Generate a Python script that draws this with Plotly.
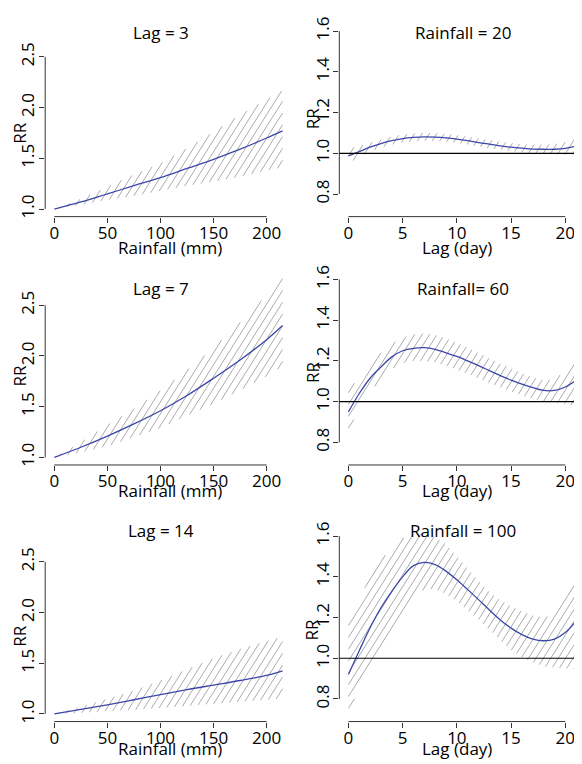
import math
import plotly.graph_objects as go

# ---------------- data ----------------
rain_x = [0, 25, 50, 75, 100, 125, 150, 175, 200, 215]

lag3_rr = [1.00, 1.07, 1.15, 1.23, 1.31, 1.40, 1.49, 1.59, 1.70, 1.77]
lag3_hi = [1.00, 1.10, 1.22, 1.34, 1.45, 1.60, 1.76, 1.93, 2.08, 2.17]
lag3_lo = [1.00, 1.04, 1.09, 1.13, 1.18, 1.23, 1.27, 1.32, 1.38, 1.41]

lag7_rr = [1.00, 1.10, 1.21, 1.33, 1.46, 1.61, 1.78, 1.96, 2.16, 2.30]
lag7_hi = [1.00, 1.15, 1.32, 1.48, 1.66, 1.86, 2.08, 2.33, 2.60, 2.77]
lag7_lo = [1.00, 1.05, 1.11, 1.20, 1.29, 1.41, 1.53, 1.66, 1.80, 1.90]

lag14_rr = [1.00, 1.045, 1.09, 1.14, 1.19, 1.24, 1.285, 1.33, 1.38, 1.425]
lag14_hi = [1.00, 1.07, 1.15, 1.23, 1.33, 1.44, 1.55, 1.64, 1.72, 1.76]
lag14_lo = [1.00, 1.01, 1.03, 1.04, 1.06, 1.08, 1.10, 1.12, 1.14, 1.155]

lag_x = list(range(22))

rain20_rr = [0.987, 1.008, 1.030, 1.048, 1.062, 1.072, 1.078, 1.081, 1.080, 1.076, 1.070,
             1.062, 1.053, 1.045, 1.037, 1.030, 1.025, 1.021, 1.020, 1.020, 1.024, 1.035]
rain20_hi = [1.025, 1.035, 1.052, 1.068, 1.082, 1.092, 1.098, 1.100, 1.099, 1.095, 1.089,
             1.082, 1.073, 1.065, 1.057, 1.050, 1.045, 1.042, 1.042, 1.045, 1.055, 1.075]
rain20_lo = [0.952, 0.982, 1.008, 1.028, 1.043, 1.053, 1.058, 1.062, 1.061, 1.057, 1.051,
             1.043, 1.034, 1.025, 1.017, 1.010, 1.005, 1.000, 0.998, 0.995, 0.993, 0.995]

rain60_rr = [0.950, 1.040, 1.115, 1.170, 1.220, 1.250, 1.262, 1.265, 1.257, 1.240, 1.222,
             1.200, 1.177, 1.152, 1.128, 1.106, 1.086, 1.069, 1.055, 1.055, 1.072, 1.105]
rain60_hi = [1.055, 1.120, 1.185, 1.240, 1.285, 1.315, 1.330, 1.335, 1.328, 1.310, 1.290,
             1.265, 1.240, 1.213, 1.187, 1.163, 1.140, 1.120, 1.105, 1.110, 1.150, 1.260]
rain60_lo = [0.860, 0.965, 1.050, 1.110, 1.160, 1.190, 1.200, 1.200, 1.193, 1.176, 1.157,
             1.137, 1.115, 1.092, 1.070, 1.050, 1.030, 1.015, 1.000, 0.995, 0.990, 0.975]

rain100_rr = [0.920, 1.037, 1.150, 1.248, 1.329, 1.400, 1.455, 1.471, 1.460, 1.428, 1.385,
              1.337, 1.288, 1.237, 1.188, 1.148, 1.116, 1.094, 1.086, 1.094, 1.126, 1.183]
rain100_hi = [1.175, 1.290, 1.400, 1.480, 1.545, 1.590, 1.610, 1.610, 1.595, 1.560, 1.500,
              1.440, 1.380, 1.325, 1.285, 1.255, 1.230, 1.210, 1.200, 1.215, 1.300, 1.440]
rain100_lo = [0.740, 0.850, 0.960, 1.060, 1.150, 1.230, 1.300, 1.340, 1.340, 1.315, 1.280,
              1.235, 1.190, 1.140, 1.090, 1.040, 1.005, 0.980, 0.960, 0.955, 0.950, 0.948]

rain_ticks = [0, 50, 100, 150, 200]
lag_ticks = [0, 5, 10, 15, 20]
rr_ticks_left = [1.0, 1.5, 2.0, 2.5]
rr_ticks_right = [0.8, 1.0, 1.2, 1.4, 1.6]

left_titles = ["Lag = 3", "Lag = 7", "Lag = 14"]
right_titles = ["Rainfall = 20", "Rainfall= 60", "Rainfall = 100"]

# ---------------- layout constants (screen pixels) ----------------
OFF = 8                      # default page body margin
W, H = 582 - OFF, 764 - OFF  # figure size so that it ends at the window edge
FONT = "Open Sans"
FS = 17
COL_DOM_PX = [(45.2, 291.7), (339.3, 582.0)]
ROW_BOTTOM_PX = [215.0, 465.0, 723.3]
PANEL_H_PX = 198.6
XR = [[-8.6, 223.6], [-0.84, 21.54]]
YR = [[0.925, 2.87], [0.689, 1.658]]
TITLE_Y_PX = [30, 287, 531]
TITLE_X_PX = [160.5, 462.5]
XLAB_Y_PX = [246.5, 491, 750]
XLAB_X_PX = [169.5, 456.5]
RR_X_PX = [20, 312]
RR_Y_PX = [[131.5, 376, 638], [117, 372.5, 631.7]]

HATCH_ANGLE = 58
HATCH_GAP = 6.3
HATCH_COLOR = "#ababab"
LINE_COLOR = "#3c46aa"
AXIS_COLOR = "#333333"


def px_x(p):
    return (p - OFF) / W


def px_y(p):
    return 1 - (p - OFF) / H


def hatch_segments(xs, lo, hi, sx, sy, ang, gap):
    pts = [(x * sx, y * sy) for x, y in zip(xs, hi)] + \
          [(x * sx, y * sy) for x, y in zip(xs[::-1], lo[::-1])]
    th = math.radians(ang)
    dx, dy = math.cos(th), math.sin(th)
    nx, ny = -dy, dx
    cs = [nx * u + ny * v for u, v in pts]
    k0 = math.floor(min(cs) / gap)
    k1 = math.ceil(max(cs) / gap)
    X, Y = [], []
    n = len(pts)
    for k in range(k0, k1 + 1):
        c = k * gap
        hits = []
        for i in range(n):
            (u1, v1), (u2, v2) = pts[i], pts[(i + 1) % n]
            c1, c2 = cs[i], cs[(i + 1) % n]
            if (c1 <= c < c2) or (c2 <= c < c1):
                t = (c - c1) / (c2 - c1)
                u = u1 + t * (u2 - u1)
                v = v1 + t * (v2 - v1)
                hits.append((dx * u + dy * v, u, v))
        hits.sort()
        for j in range(0, len(hits) - 1, 2):
            X += [hits[j][1] / sx, hits[j + 1][1] / sx, None]
            Y += [hits[j][2] / sy, hits[j + 1][2] / sy, None]
    return X, Y


panels = [
    (0, 0, rain_x, lag3_rr, lag3_lo, lag3_hi),
    (0, 1, lag_x, rain20_rr, rain20_lo, rain20_hi),
    (1, 0, rain_x, lag7_rr, lag7_lo, lag7_hi),
    (1, 1, lag_x, rain60_rr, rain60_lo, rain60_hi),
    (2, 0, rain_x, lag14_rr, lag14_lo, lag14_hi),
    (2, 1, lag_x, rain100_rr, rain100_lo, rain100_hi),
]

fig = go.Figure()
layout = dict(
    width=W, height=H, margin=dict(l=0, r=0, t=0, b=0),
    paper_bgcolor="white", plot_bgcolor="white", showlegend=False,
    font=dict(family=FONT, size=FS, color="black"),
)
shapes = []
annotations = []
tfont = dict(family=FONT, size=FS, color="black")

for idx, (row, col, xs, rr, lo, hi) in enumerate(panels):
    n = idx + 1
    xa = "x" if n == 1 else f"x{n}"
    ya = "y" if n == 1 else f"y{n}"
    xkey = "xaxis" if n == 1 else f"xaxis{n}"
    ykey = "yaxis" if n == 1 else f"yaxis{n}"

    d0, d1 = COL_DOM_PX[col]
    bottom = ROW_BOTTOM_PX[row]
    top = bottom - PANEL_H_PX
    xr, yr = XR[col], YR[col]
    sx = (d1 - d0) / (xr[1] - xr[0])
    sy = PANEL_H_PX / (yr[1] - yr[0])

    xt = rain_ticks if col == 0 else lag_ticks
    yt = rr_ticks_left if col == 0 else rr_ticks_right

    hx, hy = hatch_segments(xs, lo, hi, sx, sy, HATCH_ANGLE, HATCH_GAP)
    fig.add_trace(go.Scatter(x=hx, y=hy, mode="lines", xaxis=xa, yaxis=ya,
                             line=dict(color=HATCH_COLOR, width=1), hoverinfo="skip"))
    fig.add_trace(go.Scatter(x=xs, y=rr, mode="lines", xaxis=xa, yaxis=ya,
                             line=dict(color=LINE_COLOR, width=1.3, shape="spline")))

    layout[xkey] = dict(
        domain=[px_x(d0), min(1.0, px_x(d1))], range=xr, anchor=ya,
        showgrid=False, zeroline=False, showline=False,
        ticks="outside", ticklen=5, tickwidth=1, tickcolor=AXIS_COLOR,
        tickvals=xt, ticktext=[str(v) for v in xt], ticklabelstandoff=-4,
        tickfont=tfont,
    )
    layout[ykey] = dict(
        domain=[px_y(bottom), px_y(top)], range=yr, anchor=xa,
        showgrid=False, zeroline=False, showline=False,
        ticks="outside", ticklen=5, tickwidth=1, tickcolor=AXIS_COLOR,
        tickvals=yt, ticktext=[f"{v:.1f}" for v in yt], tickangle=-90,
        ticklabelstandoff=-2, tickfont=tfont,
    )

    # R-style axis lines spanning first to last tick
    shapes.append(dict(type="line", xref=xa, yref=f"{ya} domain",
                       x0=xt[0], x1=xt[-1], y0=0, y1=0,
                       line=dict(color=AXIS_COLOR, width=1)))
    shapes.append(dict(type="line", xref=f"{xa} domain", yref=ya,
                       x0=0, x1=0, y0=yt[0], y1=yt[-1],
                       line=dict(color=AXIS_COLOR, width=1)))
    if col == 1:
        shapes.append(dict(type="line", xref=f"{xa} domain", yref=ya,
                           x0=0, x1=1, y0=1, y1=1, layer="above",
                           line=dict(color="black", width=1.2)))

    title = left_titles[row] if col == 0 else right_titles[row]
    annotations.append(dict(text=title, xref="paper", yref="paper",
                            x=px_x(TITLE_X_PX[col]), y=px_y(TITLE_Y_PX[row]),
                            xanchor="center", yanchor="middle", showarrow=False,
                            font=tfont))
    xlab = "Rainfall (mm)" if col == 0 else "Lag (day)"
    annotations.append(dict(text=xlab, xref="paper", yref="paper",
                            x=px_x(XLAB_X_PX[col]), y=px_y(XLAB_Y_PX[row]),
                            xanchor="center", yanchor="middle", showarrow=False,
                            font=tfont))
    annotations.append(dict(text="RR", xref="paper", yref="paper", textangle=-90,
                            x=px_x(RR_X_PX[col]), y=px_y(RR_Y_PX[col][row]),
                            xanchor="center", yanchor="middle", showarrow=False,
                            font=tfont))

layout["shapes"] = shapes
layout["annotations"] = annotations
fig.update_layout(**layout)
fig.write_html("out.html")
